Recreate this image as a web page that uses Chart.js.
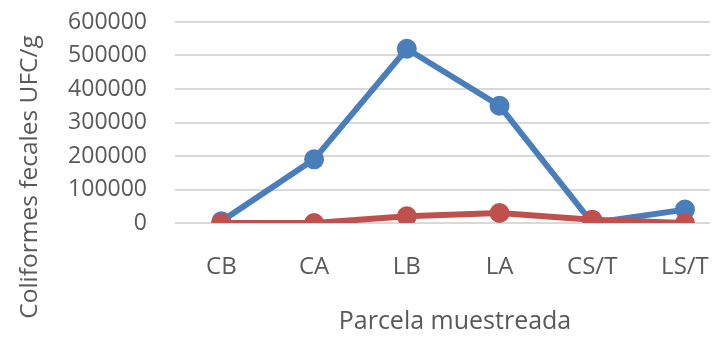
<!DOCTYPE html>
<html>
<head>
<meta charset="utf-8">
<script src="https://cdn.jsdelivr.net/npm/chart.js@4/dist/chart.umd.min.js"></script>
<style>
  html, body { margin: 0; padding: 0; background: #ffffff; }
  #wrap { width: 723px; height: 338px; }
</style>
</head>
<body>
<div id="wrap"><canvas id="chart" width="723" height="338"></canvas></div>
<script>
// Parcelas muestreadas
const categories = ['CB', 'CA', 'LB', 'LA', 'CS/T', 'LS/T'];
// Coliformes fecales (UFC/g) por parcela
const serieAzul = [5000, 190000, 520000, 350000, 0, 40000];
const serieRoja = [0, 0, 20000, 30000, 10000, 0];
const yTicks = [0, 100000, 200000, 300000, 400000, 500000, 600000];
const yTitle = 'Coliformes fecales UFC/g';
const xTitle = 'Parcela muestreada';

const textColor = '#595959';
const fontFamily = '"Open Sans", "Liberation Sans", sans-serif';

const toPoints = (vals) => vals.map((v, i) => ({ x: i, y: v }));

// Vertical axis title, centred on the full left band of the chart
const yTitlePlugin = {
  id: 'yTitle',
  afterDraw(chart) {
    const ctx = chart.ctx;
    ctx.save();
    ctx.translate(30, 177);
    ctx.rotate(-Math.PI / 2);
    ctx.fillStyle = textColor;
    ctx.font = '24.5px ' + fontFamily;
    ctx.textAlign = 'center';
    ctx.textBaseline = 'middle';
    ctx.fillText(yTitle, 0, 0);
    ctx.restore();
  }
};

// Horizontal axis title, centred a little right of the plot centre
const xTitlePlugin = {
  id: 'xTitle',
  afterDraw(chart) {
    const ctx = chart.ctx;
    ctx.save();
    ctx.fillStyle = textColor;
    ctx.font = '25px ' + fontFamily;
    ctx.textAlign = 'center';
    ctx.textBaseline = 'middle';
    ctx.fillText(xTitle, 455, 322);
    ctx.restore();
  }
};

new Chart(document.getElementById('chart'), {
  type: 'line',
  data: {
    datasets: [
      {
        label: 'Serie 1',
        data: toPoints(serieAzul),
        borderColor: '#4a7ebb',
        backgroundColor: '#4a7ebb',
        borderWidth: 6,
        pointRadius: 7,
        pointHoverRadius: 7,
        tension: 0,
        order: 2
      },
      {
        label: 'Serie 2',
        data: toPoints(serieRoja),
        borderColor: '#c0504d',
        backgroundColor: '#c0504d',
        borderWidth: 6,
        pointRadius: 7,
        pointHoverRadius: 7,
        tension: 0,
        order: 1
      }
    ]
  },
  plugins: [yTitlePlugin, xTitlePlugin],
  options: {
    responsive: false,
    animation: false,
    layout: { padding: { top: 22, right: 6, left: 0, bottom: 0 } },
    plugins: { legend: { display: false }, tooltip: { enabled: false } },
    scales: {
      x: {
        type: 'linear',
        min: -0.5,
        max: 5.27,
        afterBuildTicks: (scale) => { scale.ticks = categories.map((_, i) => ({ value: i })); },
        afterFit: (scale) => {
          scale.height = 115;
          scale.paddingLeft = 0;
          scale.paddingRight = 0;
        },
        grid: { display: false, drawTicks: false },
        border: { display: false },
        ticks: {
          autoSkip: false,
          maxRotation: 0,
          padding: 30,
          color: textColor,
          font: { family: fontFamily, size: 24 },
          callback: (v) => categories[v] ?? ''
        },
        title: { display: false }
      },
      y: {
        min: 0,
        max: 600000,
        afterBuildTicks: (scale) => { scale.ticks = yTicks.map((v) => ({ value: v })); },
        afterFit: (scale) => {
          scale.width = 175;
          scale.paddingTop = 0;
          scale.paddingBottom = 0;
        },
        grid: { color: '#d9d9d9', lineWidth: 2, drawTicks: false },
        border: { display: false },
        ticks: {
          autoSkip: false,
          padding: 28,
          color: textColor,
          font: { family: fontFamily, size: 23 },
          callback: (v) => String(v)
        },
        title: { display: false }
      }
    }
  }
});
</script>
</body>
</html>
